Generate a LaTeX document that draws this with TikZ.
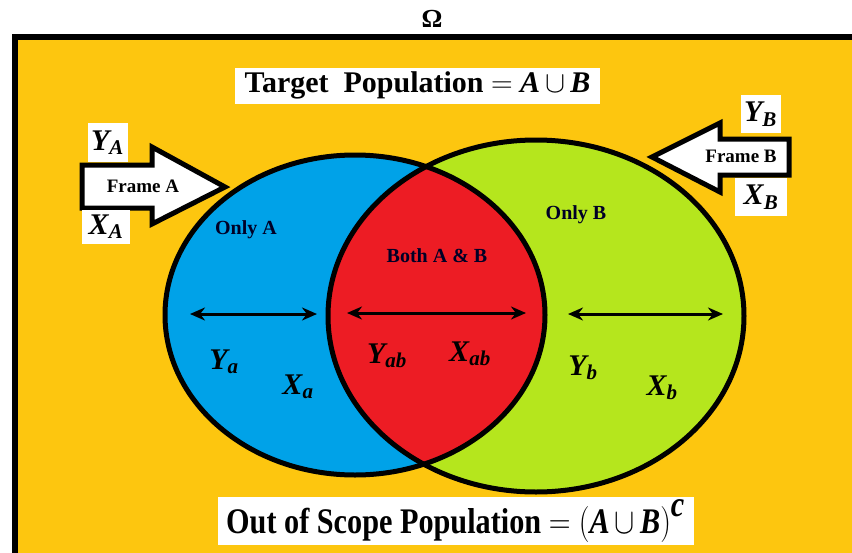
\RequirePackage{fix-cm}
\documentclass[tikz,border=0pt]{standalone}
\usepackage{fontspec}
\setmainfont{Liberation Serif}
\usetikzlibrary{arrows.meta}
\definecolor{bgorange}{RGB}{253,198,15}
\definecolor{setblue}{RGB}{0,162,232}
\definecolor{setred}{RGB}{237,28,36}
\definecolor{setgreen}{RGB}{181,230,29}
\newcommand{\bsub}[2]{\textbf{\textit{#1\textsubscript{#2}}}}
\tikzset{
  whitebox/.style={fill=white, inner sep=0pt, font=\bfseries},
  varlab/.style={font=\fontsize{30}{32}\selectfont},
  setlab/.style={font=\fontsize{20}{22}\selectfont\bfseries, text=black!85!blue},
  framearrow/.style={draw=black, fill=white, line width=5pt, line join=miter},
  setline/.style={draw=black, line width=5pt},
  dbl/.style={line width=3pt, {Stealth[length=15pt,width=13pt]}-{Stealth[length=15pt,width=13pt]}},
  framelab/.style={font=\fontsize{19}{21}\selectfont\bfseries}
}
\begin{document}
\begin{tikzpicture}[x=1pt,y=-1pt]
\useasboundingbox (0,0) rectangle (852,552);
\fill[white] (0,0) rectangle (852,552);
% universe
\fill[bgorange] (14.5,36.5) rectangle (870,570);
\draw[line width=6pt] (870,36.5) -- (14.5,36.5) -- (14.5,570);
\node[font=\fontsize{26}{28}\selectfont\bfseries] (omega) at (432,19) {Ω};
% sets
\coordinate (cA) at (355,315);
\coordinate (cB) at (536,316);
\fill[setblue] (cA) ellipse [x radius=190, y radius=160];
\fill[setgreen] (cB) ellipse [x radius=208, y radius=176];
\begin{scope}
  \clip (cA) ellipse [x radius=190, y radius=160];
  \fill[setred] (cB) ellipse [x radius=208, y radius=176];
\end{scope}
\draw[setline] (cA) ellipse [x radius=190, y radius=160];
\draw[setline] (cB) ellipse [x radius=208, y radius=176];
% title boxes
\node[whitebox, minimum width=365, minimum height=36, font=\fontsize{30}{32}\selectfont\bfseries] (target) at (417.5,85.5)
  {Target\ \ Population $=$ \textit{A}\,$\cup$\,\textit{B}};
\node[whitebox, minimum width=476, minimum height=48] (scope) at (455.5,521)
  {\scalebox{0.84}[1]{\fontsize{36}{40}\selectfont Out of Scope Population $=\bigl($\textit{A}\,$\cup$\,\textit{B}$\bigr)^{\textit{c}}$}};
% frame arrows
\draw[framearrow] (82,165) -- (152,165) -- (152,147) -- (225,187) -- (152,224) -- (152,208) -- (82,208) -- cycle;
\node[framelab] (frameA) at (143,186) {Frame A};
\draw[framearrow] (789,139) -- (720,139) -- (720,123) -- (652,157) -- (720,192) -- (720,175) -- (789,175) -- cycle;
\node[framelab] (frameB) at (741,156) {Frame B};
% frame variable boxes
\node[whitebox, minimum width=40, minimum height=39, varlab] (YA) at (107.5,142.5) {\bsub{Y}{A}};
\node[whitebox, minimum width=48, minimum height=34, varlab] (XA) at (106,226.5) {\bsub{X}{A}};
\node[whitebox, minimum width=40, minimum height=38, varlab] (YB) at (760.5,114) {\bsub{Y}{B}};
\node[whitebox, minimum width=52, minimum height=38, varlab] (XB) at (761,197) {\bsub{X}{B}};
% region labels
\node[setlab] (onlyA) at (246,230) {Only A};
\node[setlab] (both) at (437,256) {Both A \& B};
\node[setlab] (onlyB) at (576,215) {Only B};
% double arrows
\coordinate (a1) at (190,314); \coordinate (a2) at (317,314);
\coordinate (ab1) at (347,313); \coordinate (ab2) at (526,313);
\coordinate (b1) at (568,314); \coordinate (b2) at (723,314);
\draw[dbl] (a1) -- (a2);
\draw[dbl] (ab1) -- (ab2);
\draw[dbl] (b1) -- (b2);
% variables in regions
\node[varlab] (Ya) at (224,362) {\bsub{Y}{a}};
\node[varlab] (Xa) at (298,387) {\bsub{X}{a}};
\node[varlab] (Yab) at (387,356) {\bsub{Y}{ab}};
\node[varlab] (Xab) at (470,354) {\bsub{X}{ab}};
\node[varlab] (Yb) at (583,368) {\bsub{Y}{b}};
\node[varlab] (Xb) at (662,388) {\bsub{X}{b}};
\end{tikzpicture}
\end{document}
